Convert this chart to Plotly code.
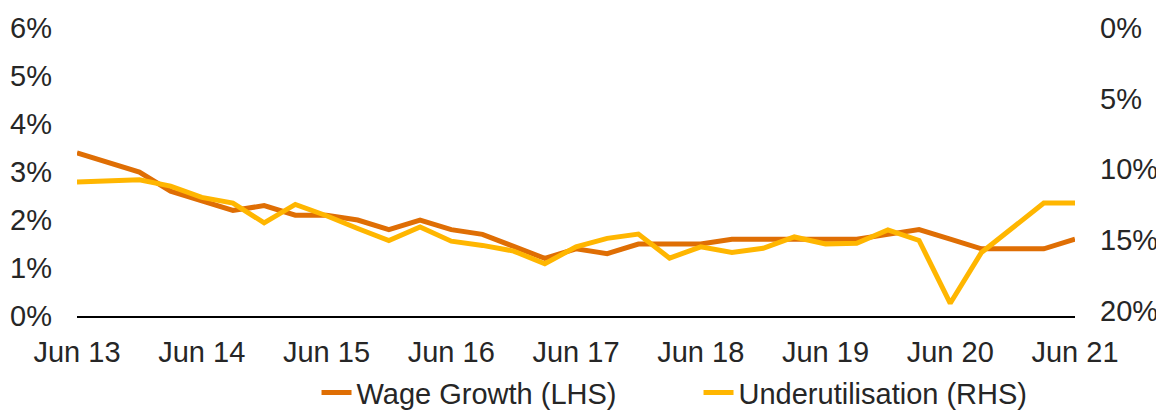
import plotly.graph_objects as go

quarters = [
    "Jun 13", "Sep 13", "Dec 13", "Mar 14", "Jun 14", "Sep 14", "Dec 14", "Mar 15",
    "Jun 15", "Sep 15", "Dec 15", "Mar 16", "Jun 16", "Sep 16", "Dec 16", "Mar 17",
    "Jun 17", "Sep 17", "Dec 17", "Mar 18", "Jun 18", "Sep 18", "Dec 18", "Mar 19",
    "Jun 19", "Sep 19", "Dec 19", "Mar 20", "Jun 20", "Sep 20", "Dec 20", "Mar 21",
    "Jun 21",
]
wage_growth = [
    3.4, 3.2, 3.0, 2.6, 2.4, 2.2, 2.3, 2.1,
    2.1, 2.0, 1.8, 2.0, 1.8, 1.7, 1.45, 1.2,
    1.4, 1.3, 1.5, 1.5, 1.5, 1.6, 1.6, 1.6,
    1.6, 1.6, 1.7, 1.8, 1.6, 1.4, 1.4, 1.4,
    1.6,
]
underutilisation = [
    10.9, 10.85, 10.75, 11.2, 12.0, 12.4, 13.8, 12.5,
    13.3, 14.2, 15.05, 14.1, 15.1, 15.4, 15.8, 16.7,
    15.5, 14.9, 14.6, 16.3, 15.5, 15.9, 15.6, 14.8,
    15.3, 15.25, 14.3, 15.05, 19.5, 15.9, 14.1, 12.4,
    12.4,
]
tick_labels = ["Jun 13", "Jun 14", "Jun 15", "Jun 16", "Jun 17", "Jun 18", "Jun 19", "Jun 20", "Jun 21"]
left_ticks = [0, 1, 2, 3, 4, 5, 6]
right_ticks = [0, 5, 10, 15, 20]

x_idx = list(range(len(quarters)))
tick_idx = [quarters.index(t) for t in tick_labels]

FONT = "Liberation Sans, Arial, sans-serif"
TXT = "#262626"
FS = 29

fig = go.Figure()
fig.add_trace(go.Scatter(
    x=x_idx, y=wage_growth, name="Wage Growth (LHS)", mode="lines",
    line=dict(color="#DF6E04", width=5), yaxis="y",
))
fig.add_trace(go.Scatter(
    x=x_idx, y=underutilisation, name="Underutilisation (RHS)", mode="lines",
    line=dict(color="#FFB600", width=5), yaxis="y2",
))

fig.update_layout(
    width=1156, height=404,
    margin=dict(l=69, r=89, t=20, b=96, autoexpand=False),
    paper_bgcolor="white", plot_bgcolor="white",
    font=dict(family=FONT, size=FS, color=TXT),
    showlegend=True,
    legend=dict(
        orientation="h", x=0.240, xanchor="left", y=-0.266, yanchor="middle",
        font=dict(family=FONT, size=FS, color=TXT),
        entrywidth=337, entrywidthmode="pixels",
        itemwidth=30, tracegroupgap=0,
    ),
    xaxis=dict(
        range=[0, len(quarters) - 1], automargin=False,
        tickmode="array", tickvals=tick_idx, ticktext=tick_labels,
        showgrid=False, zeroline=False,
        showline=True, linecolor="black", linewidth=2,
        ticks="", ticklabelstandoff=9,
        tickfont=dict(family=FONT, size=FS, color=TXT),
    ),
    yaxis=dict(
        range=[0, 6], automargin=False, tickmode="array", tickvals=left_ticks,
        ticktext=[f"{v}%" for v in left_ticks],
        showgrid=False, zeroline=False, showline=False, ticks="",
        ticklabelstandoff=24,
        tickfont=dict(family=FONT, size=FS, color=TXT),
    ),
    yaxis2=dict(
        range=[20.4, 0], automargin=False, overlaying="y", side="right",
        tickmode="array", tickvals=right_ticks,
        ticktext=[f"{v}%" for v in right_ticks],
        showgrid=False, zeroline=False, showline=False, ticks="",
        ticklabelstandoff=24,
        tickfont=dict(family=FONT, size=FS, color=TXT),
    ),
)

fig.write_html("out.html")
